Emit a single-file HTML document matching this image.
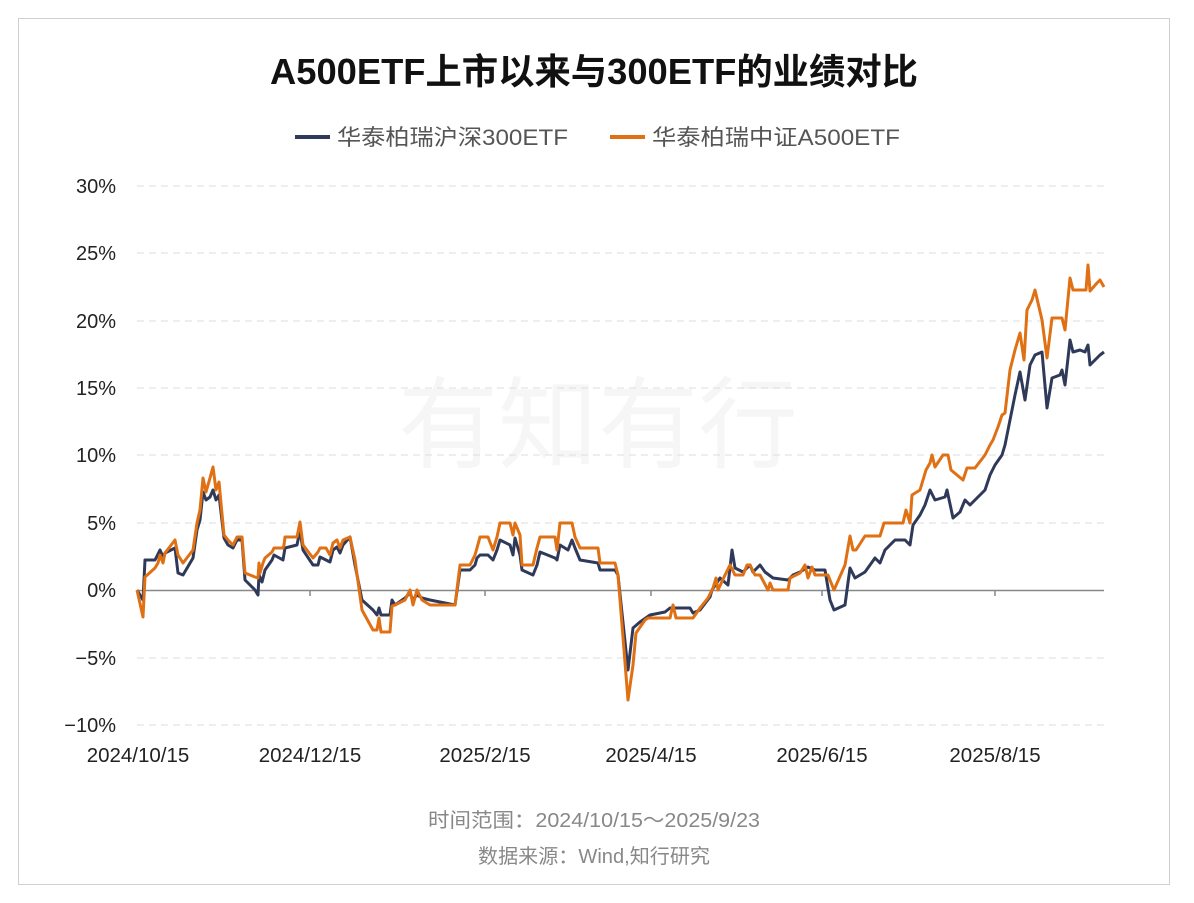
<!DOCTYPE html>
<html><head><meta charset="utf-8"><style>
body{margin:0;background:#fff;width:1194px;height:898px;overflow:hidden;font-family:"Liberation Sans","Noto Sans CJK SC",sans-serif}
</style></head><body>
<svg width="1194" height="898" xmlns="http://www.w3.org/2000/svg" font-family="Liberation Sans, Noto Sans CJK SC, sans-serif">
<rect x="18.5" y="18.5" width="1151" height="866" fill="#fff" stroke="#d0d0d0"/>
<text x="594" y="84" text-anchor="middle" font-size="36" font-weight="bold" fill="#111" textLength="648" lengthAdjust="spacingAndGlyphs">A500ETF上市以来与300ETF的业绩对比</text>
<line x1="295" y1="137" x2="330" y2="137" stroke="#2f3a5a" stroke-width="4"/>
<text x="337" y="145" font-size="22" fill="#555" textLength="231" lengthAdjust="spacingAndGlyphs">华泰柏瑞沪深300ETF</text>
<line x1="610" y1="137" x2="645" y2="137" stroke="#e07014" stroke-width="4"/>
<text x="652" y="145" font-size="22" fill="#555" textLength="248" lengthAdjust="spacingAndGlyphs">华泰柏瑞中证A500ETF</text>
<text x="598" y="460" text-anchor="middle" font-size="100" fill="#000" opacity="0.03">有知有行</text>
<g stroke="#ddd" stroke-dasharray="7,5" stroke-width="1">
<line x1="137" y1="186" x2="1104" y2="186"/><line x1="137" y1="253" x2="1104" y2="253"/><line x1="137" y1="321" x2="1104" y2="321"/><line x1="137" y1="388" x2="1104" y2="388"/><line x1="137" y1="455" x2="1104" y2="455"/><line x1="137" y1="523" x2="1104" y2="523"/><line x1="137" y1="658" x2="1104" y2="658"/><line x1="137" y1="725" x2="1104" y2="725"/>
</g>
<g font-size="20" fill="#222" text-anchor="end">
<text x="116" y="193">30%</text><text x="116" y="260">25%</text><text x="116" y="328">20%</text><text x="116" y="395">15%</text><text x="116" y="462">10%</text><text x="116" y="530">5%</text><text x="116" y="597">0%</text><text x="116" y="665">−5%</text><text x="116" y="732">−10%</text>
</g>
<line x1="137" y1="590.5" x2="1104" y2="590.5" stroke="#888" stroke-width="1.5"/>
<g stroke="#888" stroke-width="1.5"><line x1="310" y1="590" x2="310" y2="596"/><line x1="485" y1="590" x2="485" y2="596"/><line x1="651" y1="590" x2="651" y2="596"/><line x1="822" y1="590" x2="822" y2="596"/><line x1="995" y1="590" x2="995" y2="596"/></g>
<g font-size="20.5" fill="#222" text-anchor="middle">
<text x="138" y="762">2024/10/15</text><text x="310" y="762">2024/12/15</text><text x="485" y="762">2025/2/15</text><text x="651" y="762">2025/4/15</text><text x="822" y="762">2025/6/15</text><text x="995" y="762">2025/8/15</text>
</g>
<polyline fill="none" stroke="#2f3a5a" stroke-width="3" stroke-linejoin="round" points="137,590 143,600 145,560 155,560 160,550 163,557 165,553 175,548 178,573 183,575 193,558 197,530 200,520 203,492 206,500 210,497 213,490 216,500 219,495 224,538 228,545 233,548 237,540 242,540 245,580 255,590 258,595 259,575 262,582 265,570 272,560 274,555 283,560 285,548 297,545 300,530 303,550 313,565 318,565 320,557 326,560 330,562 333,550 337,547 340,553 343,545 350,537 355,565 362,600 373,610 377,615 379,608 381,615 390,615 392,600 395,605 405,598 410,593 413,600 417,595 422,598 430,600 455,605 460,570 470,570 475,565 477,558 480,555 488,555 493,560 497,550 500,540 510,545 513,555 515,538 520,555 522,570 533,575 537,565 540,552 555,558 557,560 560,545 568,550 572,540 575,548 580,560 598,563 600,570 615,570 618,575 628,670 633,628 640,622 650,615 665,612 670,608 690,608 693,613 700,610 710,597 712,590 720,578 728,585 732,550 735,568 743,572 750,565 753,572 760,565 765,572 773,578 788,580 793,575 800,572 808,567 815,570 825,570 830,600 834,610 845,605 847,590 850,568 855,578 865,572 870,565 875,558 880,563 885,550 890,545 895,540 905,540 910,545 913,525 920,515 925,505 930,490 935,500 945,497 947,490 953,518 960,512 965,500 970,505 975,500 985,490 990,475 995,465 1002,455 1005,445 1010,420 1015,395 1020,372 1025,400 1030,365 1035,355 1042,352 1047,408 1052,378 1060,375 1062,370 1065,385 1070,340 1073,352 1080,350 1085,352 1088,345 1090,365 1100,355 1104,352"/>
<polyline fill="none" stroke="#e07014" stroke-width="3" stroke-linejoin="round" points="137,590 143,617 145,577 155,568 158,563 160,555 163,563 165,553 175,540 178,555 183,563 193,550 197,523 200,510 203,478 206,492 210,478 213,467 216,490 219,482 224,535 228,540 233,545 237,537 242,537 245,573 255,577 258,578 259,563 260,573 263,563 265,558 272,552 274,548 283,548 284,545 285,537 297,537 300,522 303,545 313,558 318,552 320,548 326,548 330,555 333,543 337,540 340,548 343,540 350,537 355,560 362,610 373,630 377,630 379,618 381,632 390,632 392,606 395,605 405,600 410,590 413,605 417,590 422,600 430,605 455,605 460,565 470,565 475,555 477,548 480,537 488,537 493,550 497,537 500,523 510,523 513,535 515,523 520,535 522,565 533,565 537,548 540,537 555,537 557,550 560,523 572,523 575,537 580,548 598,548 600,563 615,563 618,575 628,700 633,665 636,633 645,620 648,618 670,618 673,605 676,618 693,618 700,608 708,598 713,588 716,578 718,590 725,575 730,565 735,575 743,575 747,565 750,565 755,575 760,575 768,590 770,583 773,590 788,590 790,578 800,573 805,565 808,578 812,567 815,575 828,575 834,590 845,565 850,536 853,550 856,550 865,536 880,536 884,523 903,523 906,510 910,523 912,495 920,490 926,470 930,463 932,455 935,467 943,455 948,455 951,470 963,480 967,468 975,468 985,455 990,445 993,440 998,427 1002,415 1005,413 1010,370 1015,350 1020,333 1024,360 1027,310 1032,300 1035,290 1042,320 1047,358 1052,318 1062,318 1065,330 1070,278 1073,290 1086,290 1088,265 1090,291 1097,283 1100,280 1104,287"/>
<text x="594" y="827" text-anchor="middle" font-size="20" fill="#888" textLength="332" lengthAdjust="spacingAndGlyphs">时间范围：2024/10/15～2025/9/23</text>
<text x="594" y="863" text-anchor="middle" font-size="20" fill="#888" textLength="232" lengthAdjust="spacingAndGlyphs">数据来源：Wind,知行研究</text>
</svg>
</body></html>
